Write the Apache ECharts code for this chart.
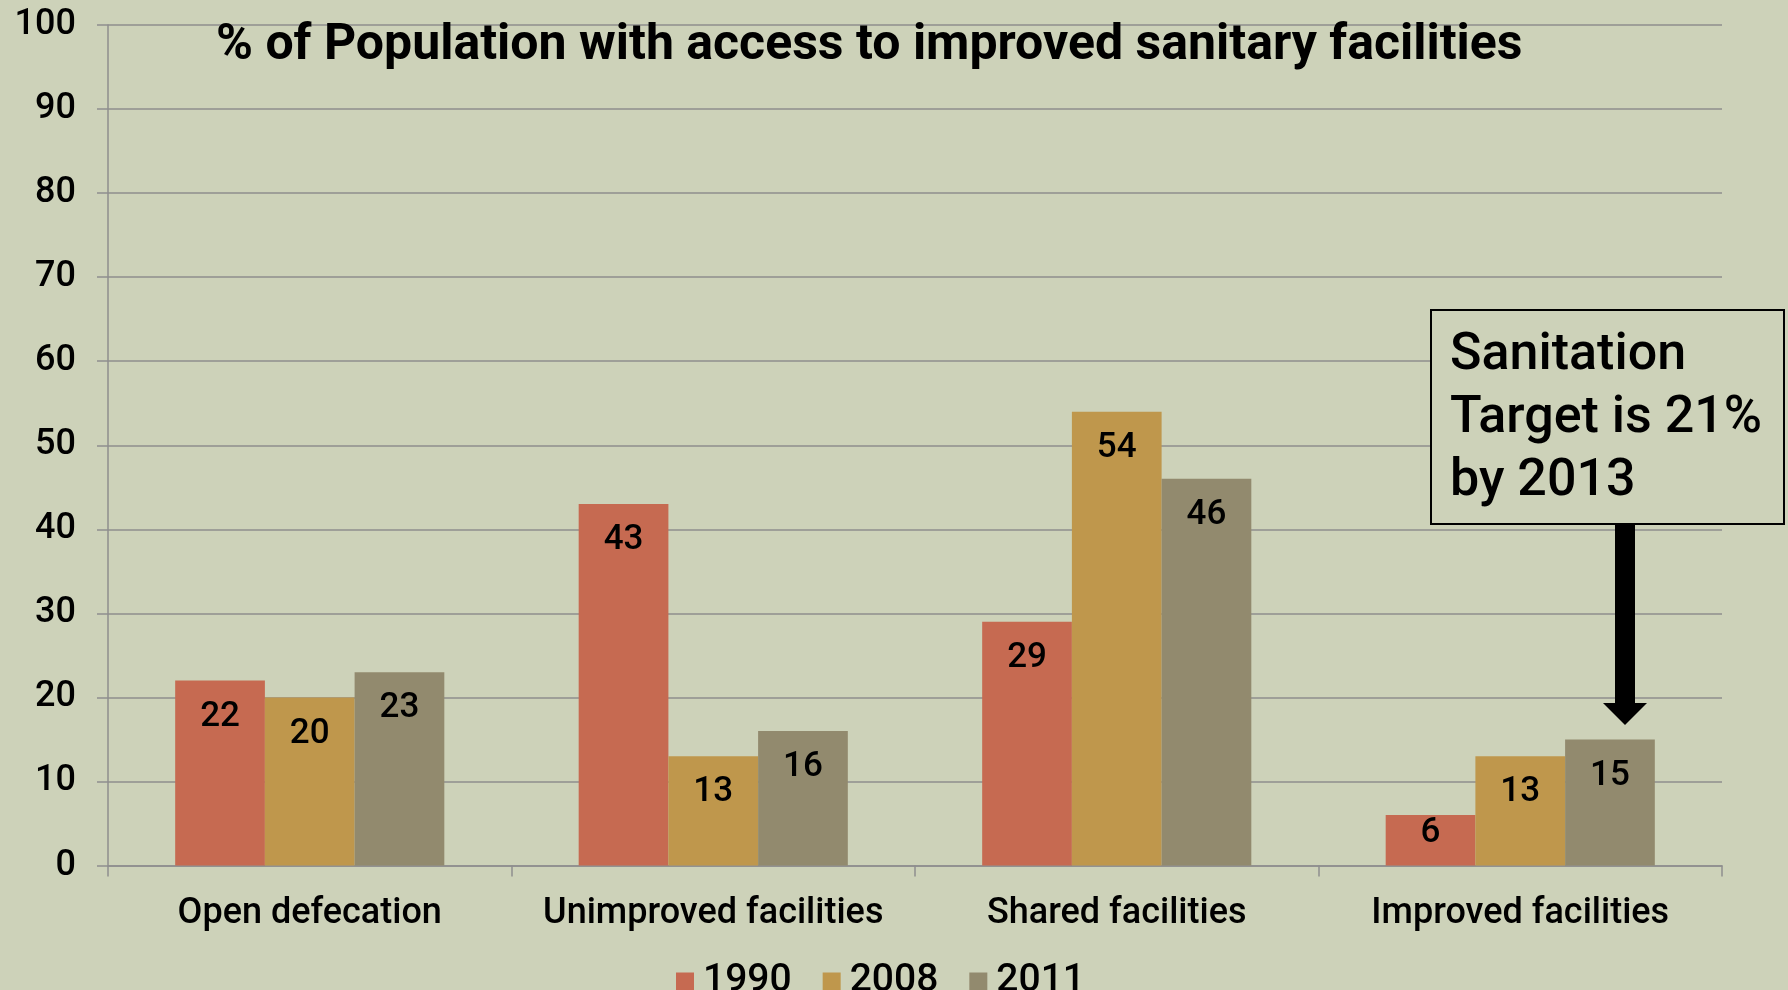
<!DOCTYPE html>
<html><head><meta charset="utf-8">
<script src="https://cdn.jsdelivr.net/npm/echarts@6/dist/echarts.min.js"></script>
<style>html,body{margin:0;padding:0;background:#CDD2B9;}#c{width:1788px;height:990px;}</style>
</head><body><div id="c"></div>
<script>
const categories = ['Open defecation', 'Unimproved facilities', 'Shared facilities', 'Improved facilities'];
const seriesNames = ['1990', '2008', '2011'];
const values1990 = [22, 43, 29, 6];
const values2008 = [20, 13, 54, 13];
const values2011 = [23, 16, 46, 15];
const colors = ['#C66A51', '#BF974C', '#928A6E'];
const FONT = 'Roboto';

const chart = echarts.init(document.getElementById('c'), null, {renderer: 'canvas'});
const mk = (name, data, color) => ({
  name, type: 'bar', barGap: '0%', barCategoryGap: '33.3%',
  data: data.map(v => v < 10 ? {value: v, label: {distance: 1}} : v),
  itemStyle: {color},
  label: {show: true, position: 'insideTop', distance: 19, color: '#000',
    fontFamily: FONT, fontWeight: 500, fontSize: 35}
});
chart.setOption({
  backgroundColor: '#CDD2B9',
  animation: false,
  title: {text: '% of Population with access to improved sanitary facilities', left: 211, top: 16,
    textStyle: {fontFamily: FONT, fontWeight: 'bold', fontSize: 50, color: '#000'}},
  legend: {data: seriesNames, left: 676, top: 962, padding: 0, itemWidth: 18, itemHeight: 18, itemGap: 31,
    icon: 'rect',
    textStyle: {fontFamily: FONT, fontWeight: 500, fontSize: 39, color: '#000', padding: [0, 0, 0, 4]}},
  grid: {left: 108, right: 66, top: 25, bottom: 124.5, containLabel: false},
  xAxis: {type: 'category', data: categories,
    axisLine: {lineStyle: {color: '#8E8E8E', width: 1.5}},
    axisTick: {show: true, interval: 0, length: 11, lineStyle: {color: '#8E8E8E', width: 1.5}},
    axisLabel: {interval: 0, margin: 30, color: '#000', fontFamily: FONT, fontWeight: 500, fontSize: 36}},
  yAxis: {type: 'value', min: 0, max: 100, interval: 10,
    axisLine: {show: true, lineStyle: {color: '#8E8E8E', width: 1.5}},
    axisTick: {show: true, length: 11, lineStyle: {color: '#8E8E8E', width: 1.5}},
    splitLine: {lineStyle: {color: '#8E8E8E', width: 1.5}},
    axisLabel: {margin: 32, color: '#000', fontFamily: FONT, fontWeight: 500, fontSize: 36}},
  series: [mk(seriesNames[0], values1990, colors[0]), mk(seriesNames[1], values2008, colors[1]), mk(seriesNames[2], values2011, colors[2])],
  graphic: [
    {type: 'rect', shape: {x: 1431, y: 310, width: 353, height: 214},
      style: {fill: '#CDD2B9', stroke: '#000', lineWidth: 2}, z: 10},
    {type: 'text', x: 1450, y: 324, z: 11,
      style: {text: 'Sanitation\nTarget is 21%\nby 2013', fontFamily: FONT, fontWeight: 500, fontSize: 52,
        lineHeight: 63, fill: '#000', verticalAlign: 'top'}},
    {type: 'polygon', z: 11,
      shape: {points: [[1615, 524], [1635, 524], [1635, 703], [1647, 703], [1625, 725], [1603, 703], [1615, 703]]},
      style: {fill: '#000'}}
  ]
});
</script></body></html>
